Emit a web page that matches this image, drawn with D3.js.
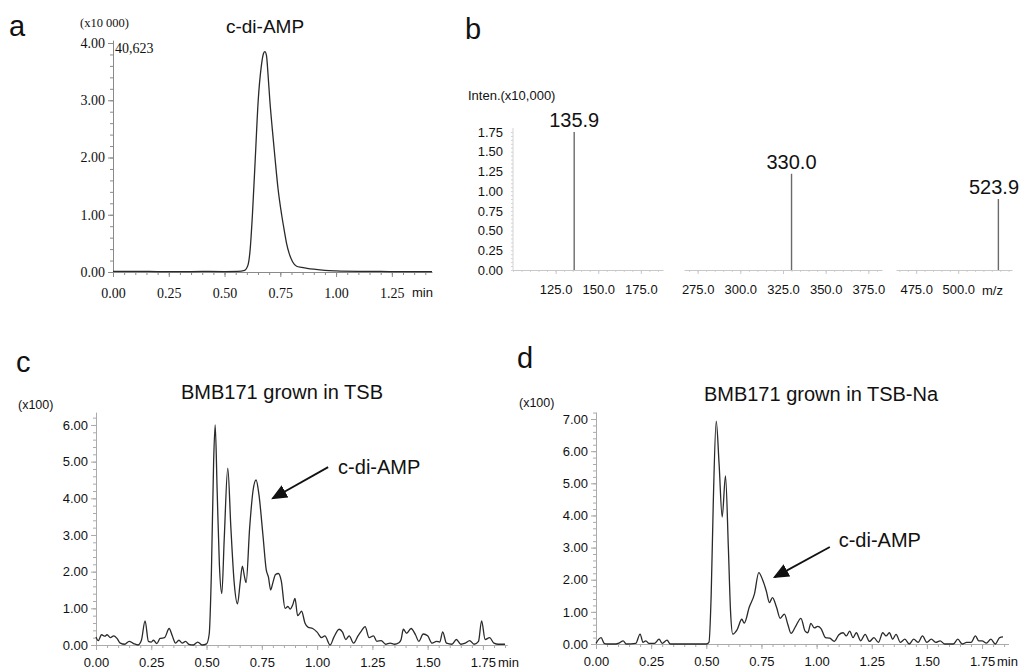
<!DOCTYPE html>
<html>
<head>
<meta charset="utf-8">
<script src="https://cdn.jsdelivr.net/npm/d3@7"></script>
<style>
  body { margin: 0; background: #fff; }
  svg { display: block; }
  text { fill: #111; }
  .sans { font-family: Arial, "Liberation Sans", sans-serif; }
  .serif { font-family: "Times New Roman", "Liberation Serif", serif; }
  .minor .domain { display: none; }
</style>
</head>
<body>
<svg id="chart" width="1024" height="670"></svg>
<script>

// chromatogram traces: [retention time (min), intensity]
var trace_a = [[0, 0.01], [0.1, 0.012], [0.2, 0.008], [0.3, 0.005], [0.4, 0.01], [0.5, 0.008],
  [0.56, 0.01], [0.59, 0.03], [0.605, 0.12], [0.615, 0.4], [0.625, 1.0], [0.638, 2.0],
  [0.651, 3.0], [0.665, 3.6], [0.675, 3.82], [0.681, 3.85], [0.688, 3.78], [0.695, 3.45],
  [0.703, 3.0], [0.714, 2.5], [0.726, 2.0], [0.74, 1.45], [0.756, 1.0], [0.768, 0.72],
  [0.778, 0.5], [0.79, 0.32], [0.805, 0.18], [0.823, 0.1], [0.845, 0.08], [0.87, 0.065],
  [0.9, 0.05], [0.95, 0.03], [1.0, 0.02], [1.1, 0.012], [1.2, 0.01], [1.3, 0.005], [1.43, 0.005]]

var trace_c = [[0, 0.22], [0.01, 0.12], [0.025, 0.28], [0.04, 0.24], [0.05, 0.28], [0.065, 0.2],
  [0.08, 0.25], [0.095, 0.18], [0.11, 0.05], [0.13, 0.02], [0.15, 0.1], [0.17, 0.04], [0.19, 0],
  [0.205, 0.12], [0.222, 0.66], [0.237, 0.1], [0.25, 0.08], [0.26, 0.13], [0.275, 0.04],
  [0.29, 0.18], [0.31, 0.2], [0.331, 0.45], [0.345, 0.25], [0.36, 0.05], [0.375, 0.13],
  [0.39, 0.05], [0.405, 0.1], [0.42, 0.02], [0.44, 0], [0.46, 0.08], [0.48, 0], [0.5, 0.03],
  [0.512, 0.3], [0.522, 2.0], [0.532, 5.0], [0.539, 6.0], [0.548, 4.2], [0.558, 2.2],
  [0.569, 1.4], [0.58, 2.9], [0.596, 4.82], [0.61, 3.2], [0.625, 1.7], [0.64, 1.12],
  [0.652, 1.7], [0.662, 2.15], [0.672, 1.85], [0.679, 1.7], [0.695, 3.2], [0.71, 4.2],
  [0.724, 4.5], [0.737, 4.1], [0.755, 3.0], [0.77, 2.05], [0.78, 1.85], [0.79, 1.5],
  [0.8, 1.7], [0.812, 1.92], [0.825, 1.95], [0.838, 1.75], [0.855, 1.0], [0.868, 1.05],
  [0.878, 0.98], [0.89, 1.1], [0.9, 1.27], [0.912, 0.8], [0.92, 0.85], [0.93, 0.92],
  [0.945, 0.6], [0.96, 0.48], [0.98, 0.45], [1.0, 0.35], [1.02, 0.2], [1.035, 0.25],
  [1.059, 0], [1.075, 0.2], [1.1, 0.43], [1.115, 0.35], [1.13, 0.15], [1.145, 0.25],
  [1.165, 0.05], [1.185, 0.25], [1.2, 0.38], [1.217, 0.5], [1.235, 0.2], [1.255, 0.25],
  [1.27, 0.1], [1.29, 0.12], [1.31, 0.02], [1.33, 0.05], [1.35, 0.02], [1.37, 0.06],
  [1.38, 0.15], [1.39, 0.43], [1.405, 0.32], [1.425, 0.45], [1.445, 0.28], [1.46, 0.1],
  [1.48, 0.3], [1.5, 0.25], [1.52, 0.05], [1.54, 0.1], [1.555, 0.08], [1.568, 0.36],
  [1.585, 0.05], [1.61, 0.02], [1.63, 0.15], [1.65, 0.02], [1.67, 0.05], [1.69, 0.12],
  [1.71, 0.02], [1.73, 0.1], [1.744, 0.66], [1.76, 0.15], [1.78, 0.2], [1.8, 0.05],
  [1.82, 0.02], [1.85, 0.02]]

var trace_d = [[0, 0.02], [0.023, 0.2], [0.037, 0.02], [0.05, 0], [0.09, 0], [0.105, 0.03],
  [0.123, 0.1], [0.137, 0], [0.18, 0.02], [0.2, 0.31], [0.213, 0.05], [0.226, 0.1],
  [0.24, 0.02], [0.265, 0.02], [0.286, 0.15], [0.3, 0.02], [0.322, 0.12], [0.337, 0],
  [0.4, 0], [0.5, 0], [0.512, 0.05], [0.522, 1.5], [0.532, 4.5], [0.545, 6.93], [0.558, 5.6],
  [0.572, 3.95], [0.587, 5.23], [0.6, 3.0], [0.61, 1.0], [0.62, 0.31], [0.64, 0.45],
  [0.661, 0.77], [0.672, 0.65], [0.695, 1.15], [0.718, 1.55], [0.738, 2.22], [0.755, 2.0],
  [0.772, 1.65], [0.786, 1.29], [0.8, 1.44], [0.818, 1.15], [0.835, 0.8], [0.854, 0.93],
  [0.87, 0.6], [0.884, 0.33], [0.905, 0.55], [0.929, 0.8], [0.948, 0.4], [0.96, 0.35],
  [0.974, 0.64], [0.99, 0.5], [1.005, 0.55], [1.02, 0.48], [1.04, 0.2], [1.06, 0.18],
  [1.08, 0.08], [1.1, 0.28], [1.12, 0.35], [1.135, 0.25], [1.15, 0.4], [1.165, 0.2],
  [1.18, 0.35], [1.2, 0.1], [1.22, 0.3], [1.24, 0.08], [1.26, 0.2], [1.28, 0.05], [1.3, 0.35],
  [1.315, 0.25], [1.33, 0.35], [1.345, 0.15], [1.36, 0.3], [1.38, 0.05], [1.4, 0.15],
  [1.42, 0], [1.44, 0.15], [1.46, 0.05], [1.48, 0.25], [1.5, 0.05], [1.52, 0.15], [1.54, 0.05],
  [1.56, 0.1], [1.58, 0], [1.62, 0], [1.64, 0.15], [1.66, 0], [1.68, 0.05], [1.7, 0.05],
  [1.72, 0.25], [1.735, 0.1], [1.75, 0.1], [1.77, 0.03], [1.79, 0.15], [1.81, 0],
  [1.83, 0.2], [1.845, 0.22]]

// tick values of the chromatograms
var time_ticks_a = [0, 0.25, 0.5, 0.75, 1.0, 1.25]
var time_ticks_cd = [0, 0.25, 0.5, 0.75, 1.0, 1.25, 1.5, 1.75]
var int_ticks_a = [0, 1, 2, 3, 4]
var int_ticks_c = [0, 1, 2, 3, 4, 5, 6]
var int_ticks_d = [0, 1, 2, 3, 4, 5, 6, 7]

// mass spectrum (panel b)
var peaks_mz = [135.9, 330.0, 523.9]
var peaks_int = [1.75, 1.22, 0.90]
var mz_ranges = [[100, 188], [267, 383], [463, 532]]
var mz_ticks = [[125, 150, 175], [275, 300, 325, 350, 375], [475, 500]]
var inten_ticks = [0, 0.25, 0.5, 0.75, 1.0, 1.25, 1.5, 1.75]


var svg = d3.select("#chart")


// style an axis group
function style_axis(g, colour){
  g.selectAll(".domain").attr("stroke", colour)
  g.selectAll(".tick line").attr("stroke", colour)
  g.selectAll(".tick text").attr("fill", "#111")
}


// draw one chromatogram with its axes
function draw_chromatogram(p){

  var x = d3.scaleLinear().domain(p.x_domain).range(p.x_range)
  var y = d3.scaleLinear().domain(p.y_domain).range(p.y_range)
  var y0 = p.y_range[0]
  var x0 = p.x_range[0]

  // minor ticks
  svg.append("g")
    .attr("class", "minor")
    .attr("transform", "translate(0," + y0 + ")")
    .call(d3.axisBottom(x).tickValues(d3.range(0, p.x_domain[1], 0.05)).tickSize(3).tickFormat(""))
    .call(style_axis, p.axis_colour)

  svg.append("g")
    .attr("class", "minor")
    .attr("transform", "translate(" + x0 + ",0)")
    .call(d3.axisLeft(y).tickValues(d3.range(0, p.y_domain[1], 0.2)).tickSize(3).tickFormat(""))
    .call(style_axis, p.axis_colour)

  // major ticks + labels
  svg.append("g")
    .attr("class", p.font)
    .attr("transform", "translate(0," + y0 + ")")
    .call(d3.axisBottom(x).tickValues(p.x_ticks).tickSize(5).tickSizeOuter(0)
      .tickPadding(p.x_pad).tickFormat(d3.format(".2f")))
    .call(style_axis, p.axis_colour)
    .attr("font-size", p.font_size)
    .attr("font-family", null)

  svg.append("g")
    .attr("class", p.font)
    .attr("transform", "translate(" + x0 + ",0)")
    .call(d3.axisLeft(y).tickValues(p.y_ticks).tickSize(5).tickSizeOuter(0)
      .tickPadding(3).tickFormat(d3.format(".2f")))
    .call(style_axis, p.axis_colour)
    .attr("font-size", p.font_size)
    .attr("font-family", null)

  // the trace itself
  var line = d3.line()
    .x(function(d){ return x(d[0]) })
    .y(function(d){ return y(d[1]) })
    .curve(d3.curveMonotoneX)

  svg.append("path")
    .datum(p.data)
    .attr("fill", "none")
    .attr("stroke", "#2a2a2a")
    .attr("stroke-width", 1.3)
    .attr("stroke-linejoin", "round")
    .attr("d", line)

  // "min" unit after last time label
  svg.append("text")
    .attr("class", "sans")
    .attr("x", p.min_x)
    .attr("y", y0 + p.x_pad + 5 + 0.71 * 13)
    .attr("font-size", 13)
    .text("min")

  // optional arrow to the c-di-AMP peak
  if (p.arrow){
    svg.append("line")
      .attr("x1", x(p.arrow.from[0])).attr("y1", y(p.arrow.from[1]))
      .attr("x2", x(p.arrow.to[0])).attr("y2", y(p.arrow.to[1]))
      .attr("stroke", "#111")
      .attr("stroke-width", 1.8)
      .attr("marker-end", "url(#arrowhead)")

    svg.append("text")
      .attr("class", "sans")
      .attr("x", x(p.arrow.label[0]))
      .attr("y", y(p.arrow.label[1]))
      .attr("dy", "0.36em")
      .attr("font-size", 20)
      .text("c-di-AMP")
  }

  return {x: x, y: y}
}


// mass spectrum with a broken m/z axis
function draw_spectrum(){

  var y = d3.scaleLinear().domain([0, 1.75]).range([270, 132])
  var axis_x = 513
  var seg_ranges = [[513, 663], [684, 882], [896, 1012]]

  svg.append("g")
    .attr("class", "minor")
    .attr("transform", "translate(" + axis_x + ",0)")
    .call(d3.axisLeft(y).tickValues(d3.range(0, 1.76, 0.05)).tickSize(2).tickFormat(""))
    .call(style_axis, "#d4d4d4")

  svg.append("g")
    .attr("class", "sans")
    .attr("transform", "translate(" + axis_x + ",0)")
    .call(d3.axisLeft(y).tickValues(inten_ticks).tickSize(0).tickPadding(10)
      .tickFormat(d3.format(".2f")))
    .call(style_axis, "#d4d4d4")
    .attr("font-size", 13)
    .attr("font-family", null)
    .select(".domain").attr("d", "M0,270V128")

  mz_ranges.forEach(function(r, i){
    var x = d3.scaleLinear().domain(r).range(seg_ranges[i])

    svg.append("g")
      .attr("class", "minor")
      .attr("transform", "translate(0,270)")
      .call(d3.axisBottom(x).tickValues(d3.range(Math.ceil(r[0] / 5) * 5, r[1], 5)).tickSize(2).tickFormat(""))
      .call(style_axis, "#d4d4d4")

    svg.append("g")
      .attr("class", "sans")
      .attr("transform", "translate(0,270)")
      .call(d3.axisBottom(x).tickValues(mz_ticks[i]).tickSize(4).tickSizeOuter(0)
        .tickPadding(11).tickFormat(d3.format(".1f")))
      .call(style_axis, "#c8c8c8")
      .attr("font-size", 13)
      .attr("font-family", null)

    // the peak in this segment
    svg.append("line")
      .attr("x1", x(peaks_mz[i])).attr("x2", x(peaks_mz[i]))
      .attr("y1", y(0)).attr("y2", y(peaks_int[i]))
      .attr("stroke", "#6a6a6a")
      .attr("stroke-width", 1.4)

    // keep the last label inside the picture
    svg.append("text")
      .attr("class", "sans")
      .attr("x", Math.min(x(peaks_mz[i]), 994))
      .attr("y", y(peaks_int[i]) - 5)
      .attr("text-anchor", "middle")
      .attr("font-size", 20)
      .text(d3.format(".1f")(peaks_mz[i]))
  })

  svg.append("text")
    .attr("class", "sans")
    .attr("x", 468).attr("y", 100)
    .attr("font-size", 13)
    .text("Inten.(x10,000)")

  svg.append("text")
    .attr("class", "sans")
    .attr("x", 982).attr("y", 295)
    .attr("font-size", 13)
    .text("m/z")
}


function initialize_charts(){

  // arrow head marker
  svg.append("defs").append("marker")
    .attr("id", "arrowhead")
    .attr("markerUnits", "userSpaceOnUse")
    .attr("markerWidth", 16).attr("markerHeight", 14)
    .attr("refX", 14).attr("refY", 7)
    .attr("orient", "auto")
    .append("path")
    .attr("d", "M0,0L16,7L0,14Z")
    .attr("fill", "#111")

  // panel letters
  var letters = [["a", 9, 36], ["b", 465, 39], ["c", 16, 372], ["d", 517, 368]]
  svg.selectAll(".panel-letter")
    .data(letters)
    .enter().append("text")
    .attr("class", "sans panel-letter")
    .attr("x", function(d){ return d[1] })
    .attr("y", function(d){ return d[2] })
    .attr("font-size", 29)
    .text(function(d){ return d[0] })

  // panel a
  draw_chromatogram({
    data: trace_a, x_domain: [0, 1.43], x_range: [113, 432],
    y_domain: [0, 4.05], y_range: [272, 272 - 4.05 * 57.25],
    x_ticks: time_ticks_a, y_ticks: int_ticks_a, axis_colour: "#8a8a8a",
    font: "serif", font_size: 14, x_pad: 11, min_x: 412
  })
  svg.append("text").attr("class", "sans").attr("x", 265).attr("y", 33)
    .attr("text-anchor", "middle").attr("font-size", 19).text("c-di-AMP")
  svg.append("text").attr("class", "serif").attr("x", 80).attr("y", 27)
    .attr("font-size", 12.5).text("(x10 000)")
  svg.append("text").attr("class", "serif").attr("x", 115).attr("y", 53)
    .attr("font-size", 14).text("40,623")

  // panel b
  draw_spectrum()

  // panel c
  draw_chromatogram({
    data: trace_c, x_domain: [0, 1.86], x_range: [96, 96 + 1.86 * 221.1],
    y_domain: [0, 6.35], y_range: [645, 645 - 6.35 * 36.67],
    x_ticks: time_ticks_cd, y_ticks: int_ticks_c, axis_colour: "#ababab",
    font: "sans", font_size: 13, x_pad: 8, min_x: 498,
    arrow: {from: [1.05, 4.85], to: [0.8, 4.0], label: [1.095, 4.85]}
  })
  svg.append("text").attr("class", "sans").attr("x", 282).attr("y", 399)
    .attr("text-anchor", "middle").attr("font-size", 20).text("BMB171 grown in TSB")
  svg.append("text").attr("class", "sans").attr("x", 18).attr("y", 409)
    .attr("font-size", 12.5).text("(x100)")

  // panel d
  draw_chromatogram({
    data: trace_d, x_domain: [0, 1.87], x_range: [596, 596 + 1.87 * 220.6],
    y_domain: [0, 7.22], y_range: [644, 644 - 7.22 * 32.14],
    x_ticks: time_ticks_cd, y_ticks: int_ticks_d, axis_colour: "#ababab",
    font: "sans", font_size: 13, x_pad: 8, min_x: 997,
    arrow: {from: [1.06, 3.02], to: [0.81, 2.08], label: [1.1, 3.24]}
  })
  svg.append("text").attr("class", "sans").attr("x", 821).attr("y", 401)
    .attr("text-anchor", "middle").attr("font-size", 20).text("BMB171 grown in TSB-Na")
  svg.append("text").attr("class", "sans").attr("x", 519).attr("y", 407)
    .attr("font-size", 12.5).text("(x100)")
}

initialize_charts()

</script>
</body>
</html>
